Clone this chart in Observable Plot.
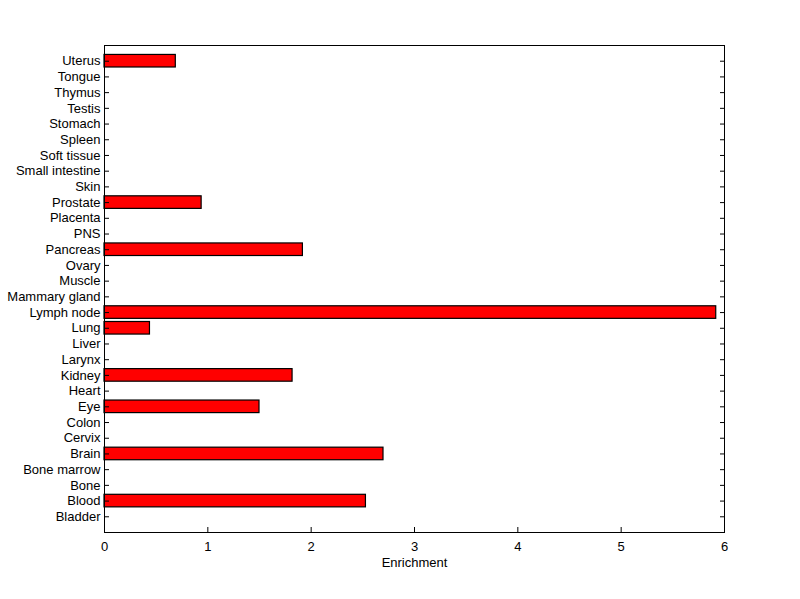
<!DOCTYPE html>
<html>
<head>
<meta charset="utf-8">
<script src="https://cdn.jsdelivr.net/npm/d3@7"></script>
<script src="https://cdn.jsdelivr.net/npm/@observablehq/plot@0.6"></script>
<style>
  html, body { margin: 0; padding: 0; background: #fff; }
  #chart svg { display: block; }
</style>
</head>
<body>
<div id="chart"></div>
<script>
const tissues = ["Bladder","Blood","Bone","Bone marrow","Brain","Cervix","Colon","Eye","Heart","Kidney","Larynx","Liver","Lung","Lymph node","Mammary gland","Muscle","Ovary","Pancreas","PNS","Placenta","Prostate","Skin","Small intestine","Soft tissue","Spleen","Stomach","Testis","Thymus","Tongue","Uterus"];
const enrichment = [0,2.53,0,0,2.70,0,0,1.50,0,1.82,0,0,0.44,5.92,0,0,0,1.92,0,0,0.94,0,0,0,0,0,0,0,0,0.69];
const xTicks = [0,1,2,3,4,5,6];

const data = tissues.map((t, i) => ({tissue: t, value: enrichment[i]}));
const bars = data.filter(d => d.value > 0);

const chart = Plot.plot({
  width: 800,
  height: 599,
  marginLeft: 104,
  marginRight: 76,
  marginTop: 45,
  marginBottom: 67,
  style: {fontFamily: "'Liberation Sans', Arial, sans-serif", fontSize: "13px", color: "#000", background: "#fff"},
  x: {domain: [0, 6]},
  y: {domain: tissues.slice().reverse(), paddingInner: 0.2, paddingOuter: 0.6, round: false},
  marks: [
    Plot.barX(bars, {y: "tissue", x: "value", fill: "#ff0000", stroke: "#000", strokeWidth: 1.2}),
    Plot.axisY({anchor: "left", tickSize: -5, tickPadding: 9, label: null, stroke: "#000"}),
    Plot.axisY({anchor: "right", tickSize: -5, tickFormat: () => "", label: null, stroke: "#000"}),
    Plot.axisX({anchor: "bottom", ticks: xTicks, tickSize: -5, tickPadding: 14, tickFormat: d3.format("d"), label: "Enrichment", labelAnchor: "center", labelArrow: "none", labelOffset: 34, stroke: "#000"}),
    Plot.frame({stroke: "#000", strokeWidth: 1})
  ]
});
document.getElementById("chart").appendChild(chart);
</script>
</body>
</html>
